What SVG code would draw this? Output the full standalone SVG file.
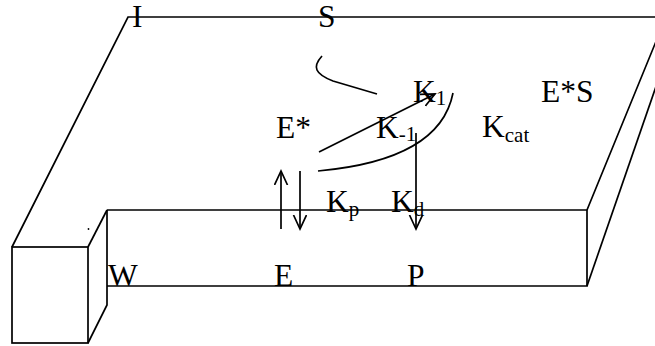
<svg xmlns="http://www.w3.org/2000/svg" width="655" height="346" viewBox="0 0 655 346">
<style>
.ln{fill:none;stroke:#000;stroke-width:1.7;stroke-linejoin:miter}
.t{font-family:"Liberation Serif","Times New Roman",serif;font-size:31.5px;fill:#000}
.s{font-size:21px}
</style>
<defs>
<marker id="ah" markerUnits="userSpaceOnUse" markerWidth="18" markerHeight="16" refX="14" refY="7" orient="auto" viewBox="0 0 18 16">
<path d="M0,0.5 L14,7 L0,13.5" fill="none" stroke="#000" stroke-width="1.7"/>
</marker>
</defs>
<rect width="655" height="346" fill="#fff"/>
<g id="slab">
<path class="ln" d="M12,247 L128,17 L666,17 L587,210"/>
<path class="ln" d="M107,210 L587,210 L587,286 L107,286"/>
<path class="ln" d="M587,286 L660,75"/>
<path class="ln" d="M107,210 L107,305 L88,343"/>
<rect class="ln" x="12" y="247" width="76" height="96"/>
<path class="ln" d="M88,247 L107,210"/>
<circle cx="88.5" cy="229" r="0.9" fill="#000"/>
</g>
<g id="connectors">
<path class="ln" d="M281,229 L281,171" marker-end="url(#ah)"/>
<path class="ln" d="M300,171 L300,229" marker-end="url(#ah)"/>
<path class="ln" d="M416,133 L416,229" marker-end="url(#ah)"/>
<path class="ln" d="M319,152 L435,94" marker-end="url(#ah)"/>
<path class="ln" d="M322,56 C312,67 315,74 333,81 L377,94"/>
<path class="ln" d="M318,171 Q440,160 453,93"/>
</g>
<g id="label-I"><text class="t" x="132" y="27">I</text></g>
<g id="label-S"><text class="t" x="318" y="27">S</text></g>
<g id="label-ES"><text class="t" x="541" y="102">E*S</text></g>
<g id="label-K1"><text class="t" x="413" y="102">K<tspan class="s" dy="3">1</tspan></text></g>
<g id="label-Estar"><text class="t" x="276" y="138">E*</text></g>
<g id="label-Km1"><text class="t" x="376" y="138">K<tspan class="s" dy="3">-1</tspan></text></g>
<g id="label-Kcat"><text class="t" x="482" y="137">K<tspan class="s" dy="5">cat</tspan></text></g>
<g id="label-Kp"><text class="t" x="326" y="212">K<tspan class="s" dy="4">p</tspan></text></g>
<g id="label-Kd"><text class="t" x="391" y="212">K<tspan class="s" dy="4">d</tspan></text></g>
<g id="label-W"><text class="t" x="108" y="286">W</text></g>
<g id="label-E"><text class="t" x="274" y="286">E</text></g>
<g id="label-P"><text class="t" x="407" y="286">P</text></g>
</svg>
